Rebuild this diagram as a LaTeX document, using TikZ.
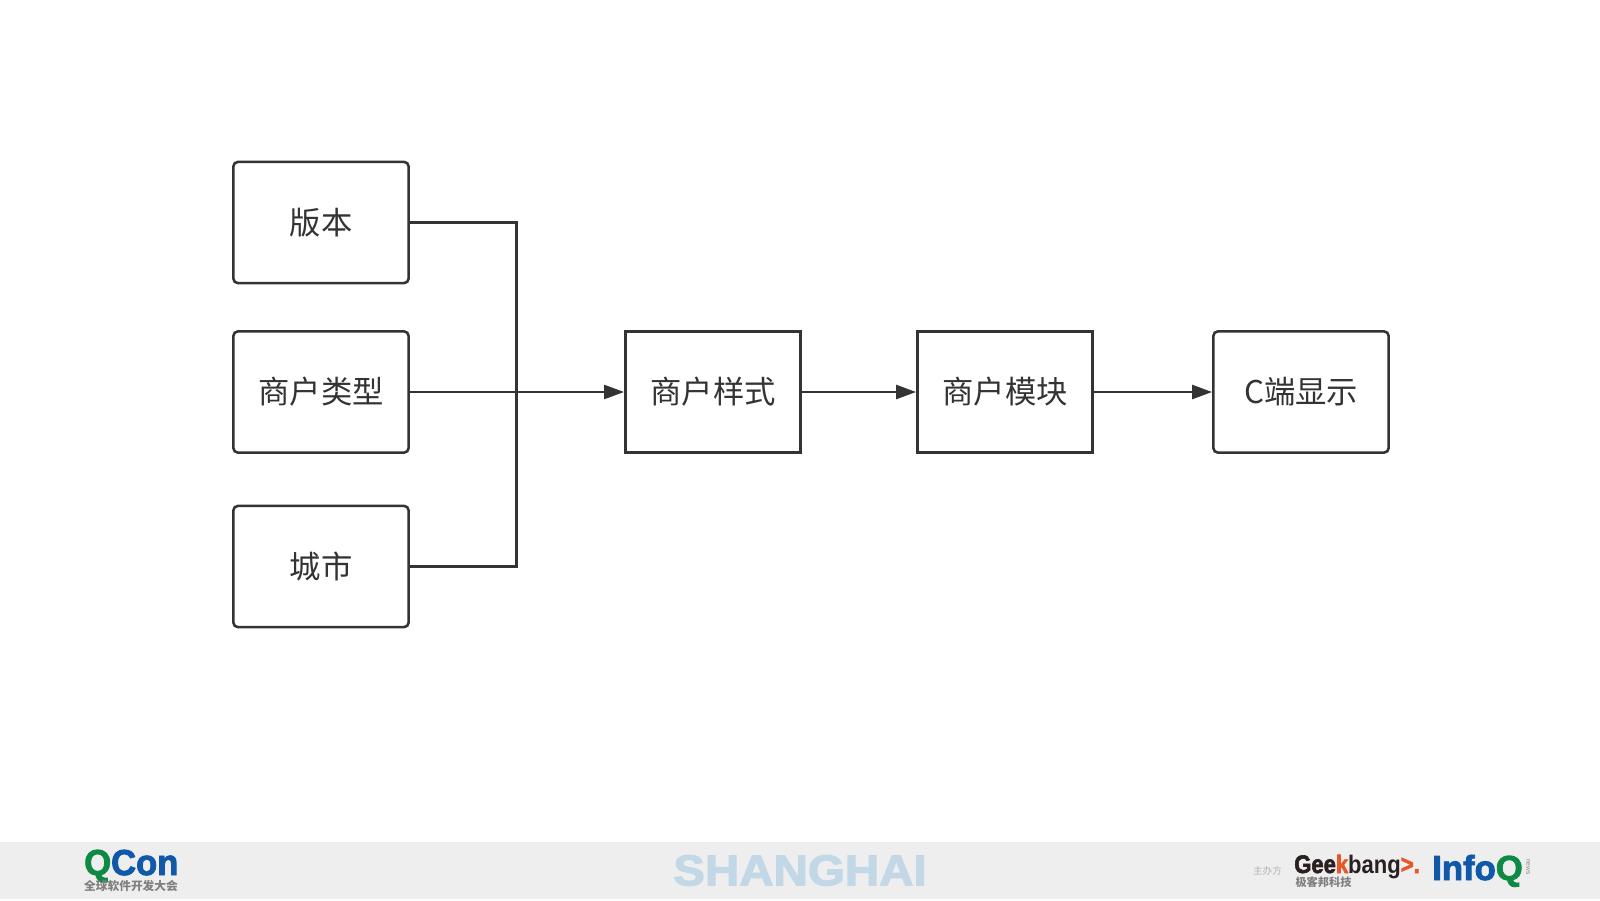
\documentclass[tikz,border=0pt]{standalone}
\usepackage{graphicx}
\usepackage{fontspec}
\setmainfont{Liberation Sans}
\newfontfamily\cjk{Noto Sans CJK SC}
\newfontfamily\fat{Liberation Sans Bold}[FakeBold=2.5]
\newfontfamily\semi{Liberation Sans Bold}
\usetikzlibrary{arrows.meta}
\definecolor{ink}{HTML}{333333}
\definecolor{band}{HTML}{EEEEEE}
\definecolor{qgreen}{HTML}{0F8A45}
\definecolor{qblue}{HTML}{1059A8}
\definecolor{city}{HTML}{C3D8E6}
\definecolor{gbdark}{HTML}{2A2020}
\definecolor{gborange}{HTML}{E8572A}
\newcommand{\boxlabel}[1]{\raisebox{-1.6pt}{#1}}
\tikzset{
  flowbox/.style={draw=ink,line width=1.9pt,fill=white,minimum width=131.5pt,minimum height=91pt,inner sep=0pt,text=ink,font=\cjk\fontsize{23.5}{28}\selectfont},
  softbox/.style={flowbox,rounded corners=3.5pt},
  flowline/.style={draw=ink,line width=1.9pt},
  flowarrow/.style={flowline,-{Triangle[length=15pt,width=10.5pt]}},
  logotext/.style={inner sep=0pt,anchor=center},
  logobase/.style={inner sep=0pt,anchor=base west}
}
\begin{document}
\begin{tikzpicture}[x=0.75pt,y=-0.75pt]
\useasboundingbox (0,0) rectangle (1600,900);
\fill[white] (0,0) rectangle (1600,900);
\fill[band] (0,842) rectangle (1600,899);
\node[softbox] (a) at (321,222.5) {\boxlabel{版本}};
\node[softbox] (b) at (321,392) {\boxlabel{商户类型}};
\node[softbox] (c) at (321,566.5) {\boxlabel{城市}};
\node[flowbox] (d) at (713,392) {\boxlabel{商户样式}};
\node[flowbox] (e) at (1005,392) {\boxlabel{商户模块}};
\node[softbox] (f) at (1301,392) {\boxlabel{C端显示}};
\coordinate (j) at (516.5,392);
\draw[flowline] (a.east) -| (j);
\draw[flowline] (c.east) -| (j);
\draw[flowarrow] (b.east) -- (d.west);
\draw[flowarrow] (d.east) -- (e.west);
\draw[flowarrow] (e.east) -- (f.west);
\node[logobase] (qc) at (84,875) {\scalebox{0.96}[1]{\fat\fontsize{27}{27}\selectfont\textcolor{qgreen}{Q}\textcolor{qblue}{Con}}};
\node[logotext,text=black!50] (qs) at (131,886.5) {\cjk\bfseries\fontsize{8.8}{10}\selectfont 全球软件开发大会};
\node[logotext,text=city] (sh) at (800,870.5) {\scalebox{1.1}[1]{\fat\fontsize{32.4}{33}\selectfont SHANGHAI}};
\node[logotext,text=black!30] (zb) at (1267.5,870.5) {\cjk\fontsize{7.2}{8}\selectfont 主办方};
\node[logobase] (gb) at (1294,873) {\scalebox{0.87}[1]{\fontsize{19}{19}\selectfont\textcolor{gbdark}{\fat Gee}\textcolor{gborange}{\fat k}\textcolor{gbdark}{\semi bang}\textcolor{gborange}{\fat >.}}};
\node[logotext,text=black!50] (gs) at (1323.5,882.5) {\cjk\bfseries\fontsize{8.4}{10}\selectfont 极客邦科技};
\node[logobase] (iq) at (1432,880) {\scalebox{1.0}[1]{\fat\fontsize{26}{26}\selectfont\textcolor{qblue}{Info}\textcolor{qgreen}{Q}}};
\node[logotext,text=black!45,rotate=-90] (nw) at (1528,867) {\fontsize{5}{5}\selectfont news};
\end{tikzpicture}
\end{document}
